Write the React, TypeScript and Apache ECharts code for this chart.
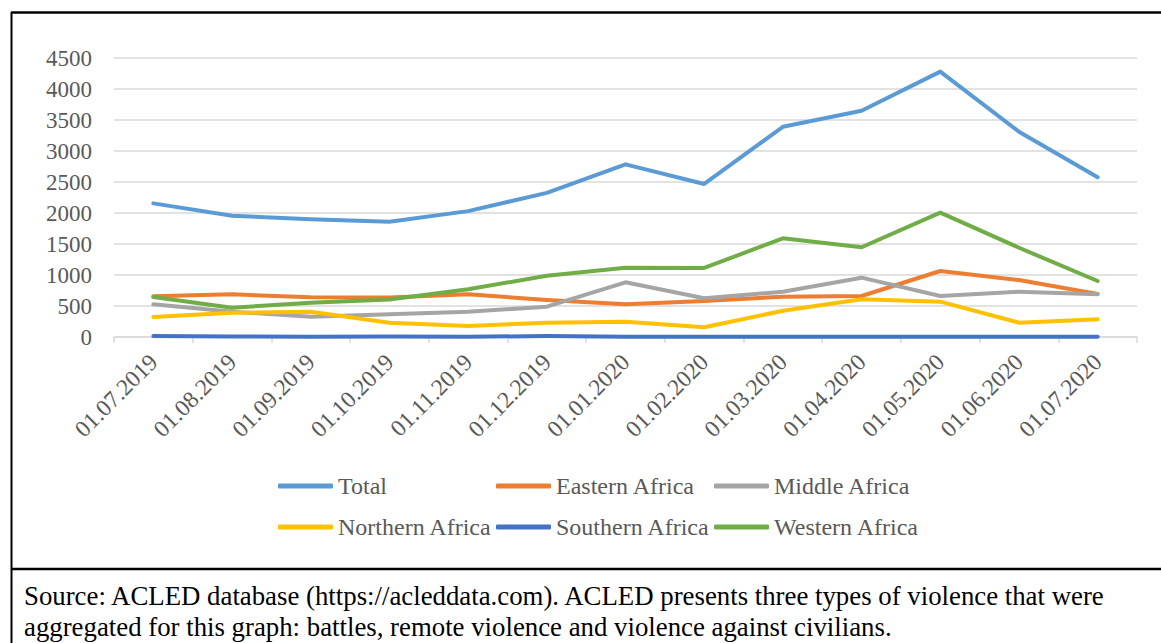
import React, { useEffect, useRef } from "react";
import * as echarts from "echarts";

const categories = [
  "01.07.2019", "01.08.2019", "01.09.2019", "01.10.2019", "01.11.2019", "01.12.2019",
  "01.01.2020", "01.02.2020", "01.03.2020", "01.04.2020", "01.05.2020", "01.06.2020", "01.07.2020",
];
const total = [2155, 1955, 1900, 1858, 2030, 2325, 2785, 2468, 3390, 3650, 4280, 3312, 2575];
const eastern = [656, 689, 640, 638, 689, 597, 527, 581, 650, 661, 1065, 919, 694];
const middle = [527, 408, 328, 366, 408, 489, 882, 624, 731, 957, 661, 731, 689];
const northern = [323, 392, 408, 231, 177, 231, 247, 156, 424, 608, 570, 231, 285];
const southern = [15, 10, 5, 10, 5, 15, 5, 5, 5, 5, 5, 5, 5];
const western = [645, 473, 553, 605, 769, 989, 1118, 1113, 1592, 1447, 2005, 1440, 903];
const yTicks = { min: 0, max: 4500, interval: 500 };

const seriesDefs = [
  { name: "Total", data: total, color: "#5B9BD5" },
  { name: "Eastern Africa", data: eastern, color: "#ED7D31" },
  { name: "Middle Africa", data: middle, color: "#A5A5A5" },
  { name: "Northern Africa", data: northern, color: "#FFC000" },
  { name: "Southern Africa", data: southern, color: "#4472C4" },
  { name: "Western Africa", data: western, color: "#70AD47" },
];

const FONT = "'Liberation Serif', 'Times New Roman', serif";

export default function App() {
  const ref = useRef<HTMLDivElement>(null);
  useEffect(() => {
    document.body.style.margin = "0";
    const chart = echarts.init(ref.current!, undefined, { renderer: "svg" });
    const legendBase = {
      orient: "vertical" as const,
      top: 474,
      padding: 0,
      itemWidth: 55,
      itemHeight: 5,
      itemGap: 17,
      icon: "roundRect",
      textStyle: { fontFamily: FONT, fontSize: 24, color: "#595959" },
    };
    chart.setOption({
      animation: false,
      backgroundColor: "#ffffff",
      color: seriesDefs.map((s) => s.color),
      grid: { left: 114, right: 24, top: 58, bottom: 306, containLabel: false },
      legend: [
        { ...legendBase, left: 278, data: ["Total", "Northern Africa"] },
        { ...legendBase, left: 496, data: ["Eastern Africa", "Southern Africa"] },
        { ...legendBase, left: 714, data: ["Middle Africa", "Western Africa"] },
      ],
      xAxis: {
        type: "category",
        data: categories,
        boundaryGap: true,
        axisLine: { lineStyle: { color: "#D9D9D9", width: 1.5 } },
        axisTick: { show: true, length: 6, lineStyle: { color: "#D9D9D9", width: 1.5 } },
        axisLabel: {
          rotate: 45,
          interval: 0,
          margin: 21,
          fontFamily: FONT,
          fontSize: 23.5,
          color: "#595959",
        },
      },
      yAxis: {
        type: "value",
        min: yTicks.min,
        max: yTicks.max,
        interval: yTicks.interval,
        axisLine: { show: false },
        axisTick: { show: false },
        splitLine: { lineStyle: { color: "#D9D9D9", width: 1.5 } },
        axisLabel: {
          margin: 22,
          fontFamily: FONT,
          fontSize: 23,
          color: "#595959",
          formatter: (v: number) => String(v),
        },
      },
      series: seriesDefs.map((s) => ({
        name: s.name,
        type: "line",
        data: s.data,
        symbol: "none",
        lineStyle: { width: 4, color: s.color, cap: "round", join: "round" },
        itemStyle: { color: s.color },
      })),
      graphic: [
        { type: "line", shape: { x1: 11, y1: 12.5, x2: 1161, y2: 12.5 }, style: { stroke: "#000", lineWidth: 2.5 } },
        { type: "line", shape: { x1: 11.5, y1: 12, x2: 11.5, y2: 643 }, style: { stroke: "#000", lineWidth: 2 } },
        { type: "line", shape: { x1: 11, y1: 569, x2: 1161, y2: 569 }, style: { stroke: "#000", lineWidth: 2.5 } },
        {
          type: "text",
          left: 24,
          top: 582,
          style: {
            text: "Source: ACLED database (https://acleddata.com). ACLED presents three types of violence that were",
            font: `26.8px ${FONT}`,
            fill: "#000",
          },
        },
        {
          type: "text",
          left: 24,
          top: 613,
          style: {
            text: "aggregated for this graph: battles, remote violence and violence against civilians.",
            font: `26.8px ${FONT}`,
            fill: "#000",
          },
        },
      ],
    });
    return () => chart.dispose();
  }, []);
  return <div ref={ref} style={{ width: 1161, height: 643 }} />;
}
